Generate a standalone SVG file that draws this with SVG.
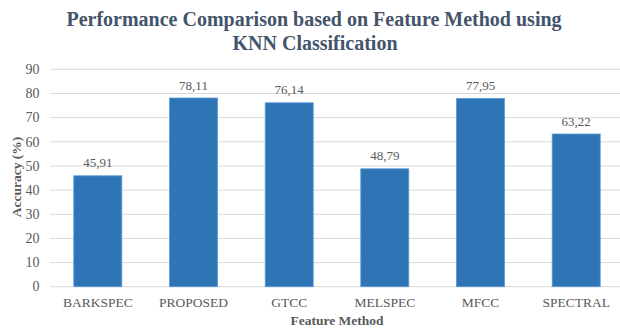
<svg xmlns="http://www.w3.org/2000/svg" width="620" height="329" viewBox="0 0 620 329">
<style>
.title{font-family:"Liberation Serif","Times New Roman",serif;font-weight:bold;font-size:20px;fill:#44546A;text-anchor:middle}
.tick{font-family:"Liberation Serif","Times New Roman",serif;font-size:14px;fill:#595959}
.ax{font-family:"Liberation Serif","Times New Roman",serif;font-weight:bold;font-size:13.5px;fill:#595959;text-anchor:middle}
.val{font-family:"Liberation Serif","Times New Roman",serif;font-size:13.5px;fill:#595959;text-anchor:middle}
.lbl{font-family:"Liberation Serif","Times New Roman",serif;font-size:13px;fill:#595959;text-anchor:middle}
.grid{stroke:#D9D9D9;stroke-width:1}
.bar{fill:#2E75B6;stroke:#5B9BD5;stroke-width:0.8}
</style>
<rect width="620" height="329" fill="#FFFFFF"/>
<g id="title">
<text class="title" x="314" y="26">Performance Comparison based on Feature Method using</text>
<text class="title" x="315" y="50">KNN Classification</text>
</g>
<g id="gridlines">
<line class="grid" x1="50" y1="69.3" x2="620" y2="69.3"/>
<line class="grid" x1="50" y1="93.5" x2="620" y2="93.5"/>
<line class="grid" x1="50" y1="117.6" x2="620" y2="117.6"/>
<line class="grid" x1="50" y1="141.8" x2="620" y2="141.8"/>
<line class="grid" x1="50" y1="166.0" x2="620" y2="166.0"/>
<line class="grid" x1="50" y1="190.1" x2="620" y2="190.1"/>
<line class="grid" x1="50" y1="214.3" x2="620" y2="214.3"/>
<line class="grid" x1="50" y1="238.4" x2="620" y2="238.4"/>
<line class="grid" x1="50" y1="262.6" x2="620" y2="262.6"/>
<line class="grid" x1="50" y1="286.7" x2="620" y2="286.7"/>
</g>
<g id="y-ticks" class="tick" text-anchor="end">
<text x="39.5" y="74">90</text>
<text x="39.5" y="98.2">80</text>
<text x="39.5" y="122.3">70</text>
<text x="39.5" y="146.5">60</text>
<text x="39.5" y="170.7">50</text>
<text x="39.5" y="194.8">40</text>
<text x="39.5" y="219">30</text>
<text x="39.5" y="243.1">20</text>
<text x="39.5" y="267.3">10</text>
<text x="39.5" y="291.4">0</text>
</g>
<g id="bars">
<g id="bar-barkspec"><rect class="bar" x="73.8" y="175.8" width="48" height="110.9"/><text class="lbl" x="97.8" y="167.3">45,91</text></g>
<g id="bar-proposed"><rect class="bar" x="169.5" y="98.0" width="48" height="188.7"/><text class="lbl" x="193.5" y="89.5">78,11</text></g>
<g id="bar-gtcc"><rect class="bar" x="265.2" y="102.8" width="48" height="183.9"/><text class="lbl" x="289.2" y="94.3">76,14</text></g>
<g id="bar-melspec"><rect class="bar" x="360.8" y="168.8" width="48" height="117.9"/><text class="lbl" x="384.8" y="160.3">48,79</text></g>
<g id="bar-mfcc"><rect class="bar" x="456.5" y="98.4" width="48" height="188.3"/><text class="lbl" x="480.5" y="89.9">77,95</text></g>
<g id="bar-spectral"><rect class="bar" x="552.2" y="134.0" width="48" height="152.7"/><text class="lbl" x="576.2" y="125.5">63,22</text></g>
</g>
<g id="x-labels" class="val">
<text x="97.8" y="306.7">BARKSPEC</text>
<text x="193.5" y="306.7">PROPOSED</text>
<text x="289.2" y="306.7">GTCC</text>
<text x="384.8" y="306.7">MELSPEC</text>
<text x="480.5" y="306.7">MFCC</text>
<text x="576.2" y="306.7">SPECTRAL</text>
</g>
<g id="axis-titles">
<text class="ax" x="337" y="325">Feature Method</text>
<text class="ax" transform="translate(20.5,177) rotate(-90)">Accuracy (%)</text>
</g>
</svg>
